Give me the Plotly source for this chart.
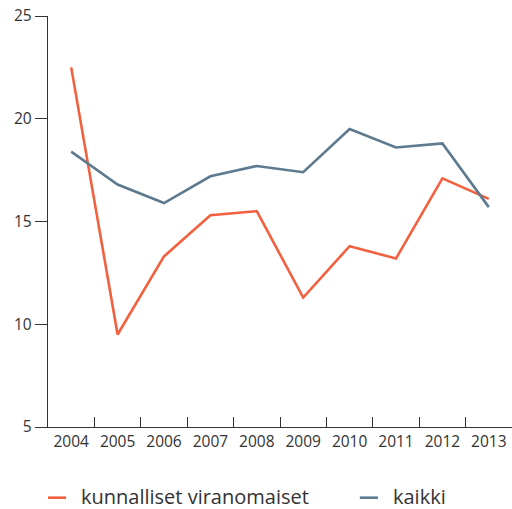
import plotly.graph_objects as go

years = ["2004", "2005", "2006", "2007", "2008", "2009", "2010", "2011", "2012", "2013"]
kunnalliset = [22.5, 9.5, 13.3, 15.3, 15.5, 11.3, 13.8, 13.2, 17.1, 16.1]
kaikki = [18.4, 16.8, 15.9, 17.2, 17.7, 17.4, 19.5, 18.6, 18.8, 15.7]
y_ticks = [5, 10, 15, 20, 25]
series_names = ["kunnalliset viranomaiset", "kaikki"]

RED = "#F2613F"
BLUE = "#5E7A8F"
AXIS = "#333333"
FONT = "'Open Sans', Lato, sans-serif"

fig = go.Figure()
fig.add_trace(go.Scatter(x=years, y=kunnalliset, mode="lines", name=series_names[0],
                         line=dict(color=RED, width=2.6), showlegend=False))
fig.add_trace(go.Scatter(x=years, y=kaikki, mode="lines", name=series_names[1],
                         line=dict(color=BLUE, width=2.6), showlegend=False))

# Legend drawn below the axis: short colour bar followed by the series name
legend_items = [(series_names[0], RED, 0.0), (series_names[1], BLUE, 0.672)]
for name, color, x0 in legend_items:
    fig.add_shape(type="line", xref="paper", yref="paper",
                  x0=x0, x1=x0 + 0.039, y0=-0.172, y1=-0.172,
                  line=dict(color=color, width=2.6))
    fig.add_annotation(text=name, xref="paper", yref="paper",
                       x=x0 + 0.069, y=-0.168, xanchor="left", yanchor="middle",
                       borderpad=0, showarrow=False,
                       font=dict(size=20, color=AXIS, family=FONT))

fig.update_layout(
    width=512, height=509,
    margin=dict(l=48, r=0, t=16, b=82),
    paper_bgcolor="white", plot_bgcolor="white",
    font=dict(family=FONT, color=AXIS),
    xaxis=dict(type="category", tickson="boundaries", ticks="inside", ticklen=10,
               tickcolor=AXIS, tickwidth=1.2, showline=True, linecolor=AXIS, linewidth=1.4,
               showgrid=False, zeroline=False, tickfont=dict(size=15.5, color=AXIS),
               range=[-0.5, 9.5]),
    yaxis=dict(range=[5, 25], tickvals=y_ticks, ticks="outside", ticklen=12,
               tickcolor=AXIS, tickwidth=1.2, showline=True, linecolor=AXIS, linewidth=1.4,
               showgrid=False, zeroline=False, tickfont=dict(size=15.5, color=AXIS)),
)

fig.write_html("out.html")
